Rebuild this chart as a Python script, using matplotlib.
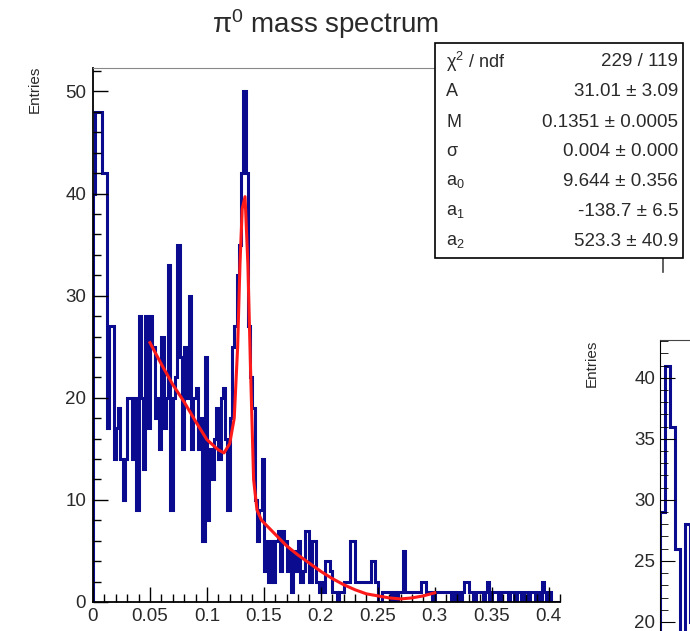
import numpy as np
import matplotlib
matplotlib.use('Agg')
import matplotlib.pyplot as plt
from matplotlib.patches import Rectangle
from matplotlib.lines import Line2D
from matplotlib.ticker import MultipleLocator

plt.rcParams['font.family'] = ['Liberation Sans', 'DejaVu Sans']
plt.rcParams['mathtext.fontset'] = 'custom'
plt.rcParams['mathtext.rm'] = 'Liberation Sans'
plt.rcParams['mathtext.it'] = 'Liberation Sans:italic'

# pi0 candidate mass histogram, 0.002 wide bins from 0 to 0.41
bin_width = 0.002
counts = [
    40, 48, 48, 48, 42, 42, 17, 27, 27, 14,
    17, 19, 14, 10, 14, 20, 20, 14, 20, 9,
    28, 20, 13, 28, 17, 28, 25, 18, 20, 15,
    26, 17, 20, 33, 9, 20, 22, 35, 24, 15,
    25, 20, 30, 15, 20, 21, 15, 18, 6, 24,
    8, 15, 12, 16, 19, 14, 20, 21, 16, 9,
    18, 25, 27, 32, 35, 42, 50, 42, 27, 22,
    19, 10, 6, 9, 14, 3, 6, 2, 6, 2,
    6, 7, 3, 7, 6, 3, 5, 1, 5, 3,
    6, 2, 3, 7, 7, 2, 6, 6, 2, 1,
    2, 1, 4, 4, 3, 1, 1, 0, 1, 1,
    2, 2, 2, 6, 6, 2, 2, 2, 2, 2,
    2, 2, 4, 4, 2, 0, 0, 1, 1, 1,
    1, 0, 1, 0, 1, 1, 5, 1, 1, 1,
    1, 1, 1, 1, 2, 2, 1, 1, 1, 0,
    1, 1, 1, 1, 1, 1, 1, 0, 1, 0,
    1, 0, 1, 2, 2, 1, 1, 0, 1, 1,
    1, 0, 1, 2, 0, 1, 1, 1, 0, 1,
    1, 1, 0, 1, 1, 0, 1, 1, 0, 1,
    1, 0, 1, 1, 0, 1, 0, 2, 1, 0,
    1, 0, 0, 0, 0,
]
edges = np.arange(len(counts) + 1) * bin_width

# fitted curve (gaussian + background)
fit_x = [0.05, 0.06, 0.07, 0.08, 0.09, 0.10, 0.11, 0.115, 0.12, 0.124,
         0.127, 0.129, 0.131, 0.1335, 0.136, 0.1385, 0.141, 0.144, 0.148,
         0.155, 0.162, 0.17, 0.18, 0.19, 0.20, 0.21, 0.22, 0.23, 0.24,
         0.25, 0.26, 0.27, 0.28, 0.29, 0.30]
fit_y = [25.4, 23.3, 21.3, 19.6, 17.7, 15.9, 14.9, 14.6, 15.5, 18.0,
         25.0, 33.0, 38.5, 39.7, 33.0, 22.0, 12.0, 9.0, 8.0,
         7.2, 6.4, 5.5, 4.6, 3.8, 3.0, 2.3, 1.7, 1.2, 0.8,
         0.6, 0.4, 0.3, 0.4, 0.6, 0.9]

# second pad, only its first bins are in view
right_counts = [29, 41, 36, 26, 15, 28, 20, 18]

stat_names = ['χ$^2$ / ndf', 'A', 'M', 'σ', 'a$_0$', 'a$_1$', 'a$_2$']
stat_values = ['229 / 119', '31.01 ± 3.09', '0.1351 ± 0.0005', '0.004 ± 0.000',
               '9.644 ± 0.356', '-138.7 ± 6.5', '523.3 ± 40.9']

hist_color = '#0b0b8f'
text_color = '#2a2a2a'

fig = plt.figure(figsize=(6.9, 6.31), dpi=100)

# ---- left pad
ax = fig.add_axes([93 / 690, 29 / 631, 467 / 690, 534 / 631])
ax.stairs(counts, edges, color=hist_color, lw=2.2)
ax.plot(fit_x, fit_y, color='#ff1a1a', lw=2.2)
ax.set_xlim(0, 0.41)
ax.set_ylim(0, 52.3)
ax.set_xticks([0, 0.05, 0.1, 0.15, 0.2, 0.25, 0.3, 0.35, 0.4])
ax.set_xticklabels(['0', '0.05', '0.1', '0.15', '0.2', '0.25', '0.3', '0.35', '0.4'])
ax.set_yticks([0, 10, 20, 30, 40, 50])
ax.xaxis.set_minor_locator(MultipleLocator(0.01))
ax.yaxis.set_minor_locator(MultipleLocator(2))
ax.tick_params(which='both', direction='in', top=False, right=False,
               labelsize=13.5, labelcolor=text_color, width=1.0)
ax.tick_params(which='major', length=11)
ax.tick_params(which='minor', length=5.5)
ax.tick_params(axis='x', pad=4)
ax.tick_params(axis='y', pad=5)
ax.spines['top'].set_color('#888888')
ax.spines['right'].set_visible(False)
ax.spines['left'].set_linewidth(1.3)
ax.spines['bottom'].set_linewidth(1.3)
ax.text(-58 / 467, 1.005, 'Entries', transform=ax.transAxes, rotation=90,
        ha='center', va='top', fontsize=11, color=text_color)
fig.text(325 / 690, 1 - 24 / 631, 'π$^0$ mass spectrum', ha='center', va='center',
         fontsize=20, color=text_color)

# ---- right pad (mostly outside the picture)
ax2 = fig.add_axes([660 / 690, -235 / 631, 345 / 690, 526 / 631])
r_edges = np.arange(len(right_counts) + 1) * bin_width
ax2.stairs(right_counts, r_edges, color=hist_color, lw=2.2)
ax2.set_xlim(0, 0.138)
ax2.set_ylim(0, 43.1)
ax2.set_yticks([20, 25, 30, 35, 40])
ax2.yaxis.set_minor_locator(MultipleLocator(1))
ax2.set_xticks([])
ax2.tick_params(which='both', direction='in', labelsize=13.5, labelcolor=text_color)
ax2.tick_params(which='major', length=11)
ax2.tick_params(which='minor', length=5.5)
ax2.spines['top'].set_color('#444444')
ax2.spines['right'].set_visible(False)
ax2.text(-68 / 345, 1.0, 'Entries', transform=ax2.transAxes, rotation=90,
         ha='center', va='top', fontsize=11, color=text_color)

# ---- stats box
fig.patches.append(Rectangle((435 / 690, 1 - 258 / 631), 248 / 690, 215 / 631,
                             transform=fig.transFigure, facecolor='white',
                             edgecolor='black', lw=1.2, zorder=5))
fig.lines.append(Line2D([663 / 690, 663 / 690], [1 - 258 / 631, 1 - 272 / 631],
                        transform=fig.transFigure, color='#444444', lw=1.2, zorder=5))
for i, (name, val) in enumerate(zip(stat_names, stat_values)):
    y = 1 - (62 + 30 * i) / 631
    fig.text(446 / 690, y, name, ha='left', va='center', fontsize=13,
             color=text_color, zorder=6)
    fig.text(678 / 690, y, val, ha='right', va='center', fontsize=13.5,
             color=text_color, zorder=6)

fig.savefig('out.png', dpi=100)
